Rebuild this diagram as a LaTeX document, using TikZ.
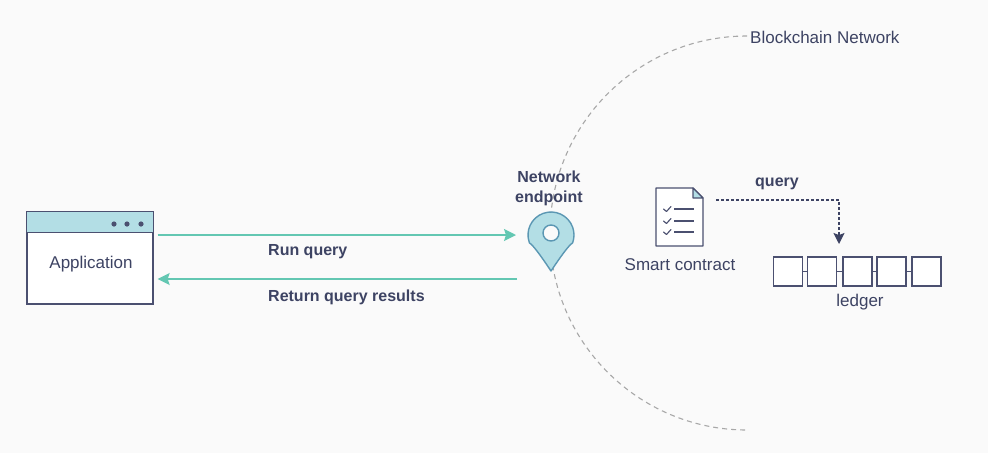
\documentclass[tikz,border=0pt]{standalone}
\usepackage{fontspec}
\setmainfont{Liberation Sans}
\usetikzlibrary{arrows.meta,calc}
\definecolor{navy}{HTML}{3D4363}
\definecolor{boxline}{HTML}{4B5070}
\definecolor{tealc}{HTML}{63C7B2}
\definecolor{lblue}{HTML}{B3DEE5}
\definecolor{pinline}{HTML}{5B97B3}
\definecolor{arcgray}{HTML}{A8A8A8}
\definecolor{bg}{HTML}{FAFAFA}
\tikzset{
  regtext/.style={text=navy,font=\fontsize{17}{20}\selectfont,inner sep=0pt},
  boldtext/.style={text=navy,font=\fontsize{16}{20}\bfseries\selectfont,inner sep=0pt},
  winbox/.style={draw=boxline,line width=1.3pt,fill=white,minimum width=126pt,minimum height=92pt,inner sep=0pt},
  blockbox/.style={draw=boxline,line width=1.2pt,fill=white,minimum width=29pt,minimum height=29pt,inner sep=0pt},
  tealarrow/.style={draw=tealc,line width=1.5pt,-{Stealth[length=12pt,width=12pt,inset=2pt]}},
  qarrow/.style={draw=navy,line width=1.2pt,dash pattern=on 3pt off 2pt,-{Stealth[length=11pt,width=11pt,inset=2pt]}},
}
\begin{document}
\begin{tikzpicture}[x=1pt,y=-1pt]
\fill[bg] (0,0) rectangle (988,453);
\useasboundingbox (0,0) rectangle (988,453);

% network boundary
\draw[arcgray,line width=1.1pt,dash pattern=on 5pt off 4pt] (747,36) arc[start angle=90,end angle=270,radius=197pt];
\node[regtext,anchor=west] (bcn) at (750,37) {Blockchain Network};

% application window
\node[winbox] (app) at (90,258) {};
\fill[lblue] (app.north west) rectangle ([yshift=-21pt]app.north east);
\draw[boxline,line width=1.3pt] ([yshift=-21pt]app.north west) -- ([yshift=-21pt]app.north east);
\draw[boxline,line width=1.3pt] (app.north west) rectangle (app.south east);
\foreach \dx in {114,127,141} \fill[boxline] (\dx,224) circle[radius=2.6pt];
\node[regtext] (apptext) at (91,264) {Application};

% pin
\coordinate (pin) at (551,235);
\draw[pinline,fill=lblue,line width=1.4pt,line join=round] (551,271) .. controls (547,265) and ($(pin)+(-150:20pt)$) .. ($(pin)+(-160:23pt)$) arc[start angle=200,end angle=-20,radius=23pt] .. controls ($(pin)+(-30:20pt)$) and (555,265) .. (551,271) -- cycle;
\draw[pinline,fill=bg,line width=1.4pt] (551,233) circle[radius=8pt];
\node[boldtext,align=center] (ep) at (549,188) {Network\\endpoint};

% arrows app <-> endpoint
\draw[tealarrow] ([xshift=4pt]app.east |- pin) -- ([xshift=-35pt]pin);
\coordinate (ret) at (517,279);
\draw[tealarrow] (ret) -- ([xshift=4pt]app.east |- ret);
\node[boldtext,anchor=west] (runq) at (268,252) {Run query};
\node[boldtext,anchor=west] (retq) at (268,297) {Return query results};

% smart contract icon
\node[minimum width=47pt,minimum height=58pt,inner sep=0pt] (doc) at (679.5,217) {};
\draw[boxline,line width=1.3pt,line join=round,fill=white] (656,188) -- (693,188) -- (703,198) -- (703,246) -- (656,246) -- cycle;
\draw[boxline,line width=1.1pt,line join=round,fill=lblue] (693,188) -- (703,198) -- (693,198) -- cycle;
\foreach \yy in {209,221,232} {
  \draw[boxline,line width=1.1pt,line cap=round,line join=round] (663.5,\yy) -- (666.5,\yy+2.5) -- (671,\yy-2.5);
  \draw[boxline,line width=1.3pt] (674,\yy) -- (694,\yy);
}
\node[regtext] (sc) at (680,265) {Smart contract};

% ledger
\foreach \i/\xx in {1/788,2/822,3/857.5,4/891.5,5/926.5} \node[blockbox] (b\i) at (\xx,271.5) {};
\foreach \a/\b in {1/2,2/3,3/4,4/5} \draw[boxline,line width=1.2pt] (b\a.east) -- (b\b.west);
\node[regtext] (led) at (860,302) {ledger};

% query arrow
\coordinate (qs) at (716,200);
\coordinate (qe) at (839,244);
\draw[qarrow] (qs) -| (qe);
\node[boldtext] (qry) at (777,184) {query};
\end{tikzpicture}
\end{document}
